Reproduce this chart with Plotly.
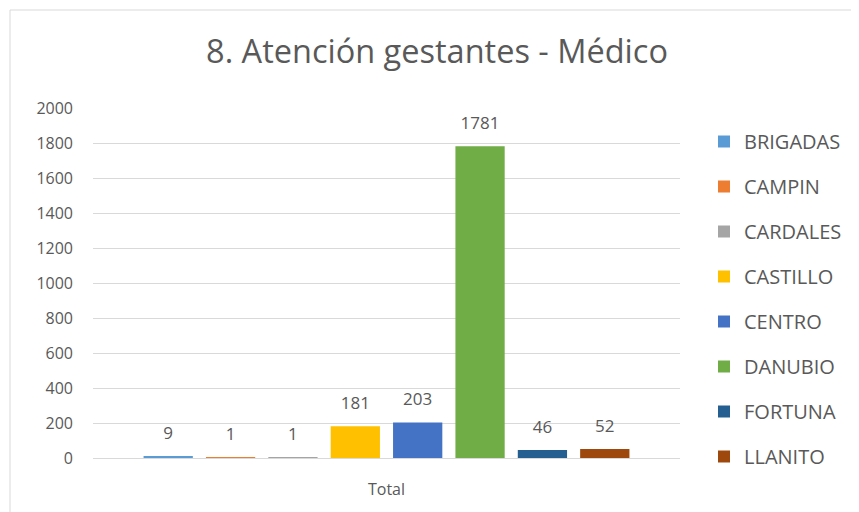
import plotly.graph_objects as go

categories = ["Total"]
series_names = ["BRIGADAS", "CAMPIN", "CARDALES", "CASTILLO", "CENTRO", "DANUBIO", "FORTUNA", "LLANITO"]
series_values = [9, 1, 1, 181, 203, 1781, 46, 52]
series_colors = ["#5B9BD5", "#ED7D31", "#A5A5A5", "#FFC000", "#4472C4", "#70AD47", "#255E91", "#9E480E"]
y_ticks = [0, 200, 400, 600, 800, 1000, 1200, 1400, 1600, 1800, 2000]

FONT = "Open Sans"
GREY = "#595959"
PADSPAN = "<span style='font-size:48px'>\u00a0</span>"

fig = go.Figure()
for name, val, col in zip(series_names, series_values, series_colors):
    fig.add_trace(go.Bar(
        x=categories, y=[val], name=name, legendgroup=name,
        marker=dict(color=col, line=dict(width=0)),
        text=[f"{PADSPAN}{val}{PADSPAN}"],
        textposition="outside", cliponaxis=False, constraintext="none",
        textfont=dict(family=FONT, size=17, color=GREY),
    ))

# page is offset by the 8px body margin
OFF = 8
W, H = 859, 512
L, R, T, B = 93 - OFF, 859 - (680 - OFF), 108 - OFF, 512 - (458 - OFF)
pw, ph = W - L - R, H - T - B

fig.update_layout(
    width=W, height=H,
    margin=dict(l=L, r=R, t=T, b=B, autoexpand=False),
    paper_bgcolor="white", plot_bgcolor="white",
    barmode="group", bargap=0.15, bargroupgap=0.21,
    title=dict(text="8. Atención gestantes - Médico", x=(437 - OFF) / W, xanchor="center",
               y=1 - (52 - OFF) / H, yanchor="middle",
               font=dict(family=FONT, size=32.5, color=GREY)),
    font=dict(family=FONT, color=GREY),
    xaxis=dict(showgrid=False, showline=False, ticks="", ticklabelstandoff=20,
               tickfont=dict(family=FONT, size=16, color=GREY)),
    yaxis=dict(range=[0, 2000], tickvals=y_ticks, showgrid=True, gridcolor="#D9D9D9", gridwidth=1,
               zeroline=True, zerolinecolor="#D9D9D9", zerolinewidth=1, showline=False, ticks="",
               ticklabelstandoff=19,
               tickfont=dict(family=FONT, size=16, color=GREY)),
    legend=dict(x=(704 - OFF - L) / pw, y=(H - B - (122 - OFF)) / ph, xanchor="left", yanchor="top",
                tracegroupgap=16, traceorder="grouped", maxheight=480,
                font=dict(family=FONT, size=20, color=GREY), itemwidth=30),
    shapes=[dict(type="rect", xref="paper", yref="paper",
                 x0=(10 - OFF - L) / pw, x1=(858 - OFF - L) / pw,
                 y0=(H - B - 515) / ph, y1=(H - B - (10 - OFF)) / ph,
                 line=dict(color="#D9D9D9", width=1), fillcolor="rgba(0,0,0,0)", layer="below")],
)

fig.write_html("out.html")
